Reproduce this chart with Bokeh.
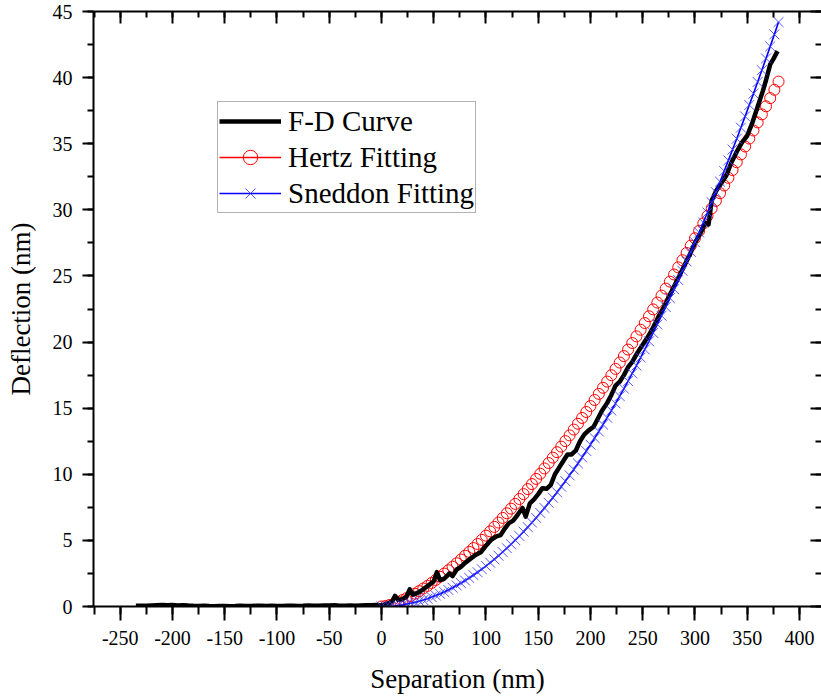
from bokeh.plotting import figure
from bokeh.models import (Range1d, LinearAxis, SingleIntervalTicker, Legend,
                          LegendItem, NumeralTickFormatter)
from bokeh.embed import file_html
from bokeh.resources import INLINE

SERIF = "Liberation Serif"

# ---------------- data ----------------
fd_sep_approach = [-235, -230, -225, -220, -215, -210, -205, -200, -195, -190,
                   -185, -180, -175, -170, -165, -160, -155, -150, -145, -140,
                   -135, -130, -125, -120, -115, -110, -105, -100, -95, -90,
                   -85, -80, -75, -70, -65, -60, -55, -50, -45, -40,
                   -35, -30, -25, -20, -15, -10, -5]
fd_defl_approach = [0.05, 0.06, 0.05, 0.08, 0.10, 0.12, 0.10, 0.11, 0.08, 0.10,
                    0.07, 0.05, 0.04, 0.05, 0.03, 0.02, 0.03, 0.04, 0.02, 0.03,
                    0.05, 0.04, 0.03, 0.05, 0.06, 0.04, 0.05, 0.04, 0.03, 0.05,
                    0.06, 0.04, 0.05, 0.07, 0.05, 0.06, 0.08, 0.07, 0.09, 0.06,
                    0.05, 0.07, 0.06, 0.08, 0.10, 0.09, 0.12]
fd_sep_contact = [0, 5, 10, 13, 16, 20, 24, 27, 30, 35,
                  40, 45, 50, 53, 56, 60, 65, 68, 72, 76,
                  80, 85, 90, 95, 100, 105, 110, 114, 118, 122,
                  126, 130, 135, 138, 142, 146, 150, 154, 158, 162,
                  166, 170, 174, 178, 182, 186, 190, 194, 198, 203,
                  207, 211, 216, 220, 224, 228, 232, 236, 240, 245,
                  250, 255, 260, 265, 270, 275, 280, 285, 290, 295,
                  300, 305, 310, 313, 316, 320, 325, 330, 335, 340,
                  345, 350, 355, 360, 365, 368, 372, 375, 379]
fd_defl_contact = [0.08, 0.20, 0.35, 0.80, 0.50, 0.55, 0.75, 1.30, 0.90, 1.05,
                   1.30, 1.60, 1.90, 2.60, 2.00, 2.10, 2.50, 2.30, 2.80, 3.00,
                   3.30, 3.60, 3.90, 4.10, 4.60, 5.05, 5.30, 5.40, 5.90, 6.30,
                   6.50, 6.90, 7.45, 6.80, 7.80, 8.10, 8.50, 8.95, 8.90, 9.20,
                   10.00, 10.50, 11.00, 11.50, 11.50, 11.80, 12.50, 13.00, 13.30, 13.60,
                   14.20, 14.80, 15.40, 16.00, 16.70, 17.00, 17.50, 18.10, 18.50, 19.20,
                   19.80, 20.40, 21.10, 21.90, 22.60, 23.40, 24.20, 25.00, 25.80, 26.60,
                   27.50, 28.20, 29.00, 28.90, 30.70, 31.40, 32.00, 32.60, 33.60, 34.40,
                   35.10, 35.60, 36.60, 37.80, 39.00, 39.80, 41.00, 41.40, 42.00]

fit_sep = [0, 4, 8, 12, 16, 20, 24, 28, 32, 36,
           40, 44, 48, 52, 56, 60, 64, 68, 72, 76,
           80, 84, 88, 92, 96, 100, 104, 108, 112, 116,
           120, 124, 128, 132, 136, 140, 144, 148, 152, 156,
           160, 164, 168, 172, 176, 180, 184, 188, 192, 196,
           200, 204, 208, 212, 216, 220, 224, 228, 232, 236,
           240, 244, 248, 252, 256, 260, 264, 268, 272, 276,
           280, 284, 288, 292, 296, 300, 304, 308, 312, 316,
           320, 324, 328, 332, 336, 340, 344, 348, 352, 356,
           360, 364, 368, 372, 376, 380]
hertz_defl = [0.00, 0.04, 0.12, 0.22, 0.34, 0.48, 0.63, 0.79, 0.97, 1.16,
              1.36, 1.56, 1.78, 2.01, 2.25, 2.49, 2.74, 3.01, 3.27, 3.55,
              3.84, 4.13, 4.42, 4.73, 5.04, 5.36, 5.68, 6.02, 6.35, 6.70,
              7.05, 7.40, 7.76, 8.13, 8.50, 8.88, 9.26, 9.65, 10.04, 10.44,
              10.85, 11.26, 11.67, 12.09, 12.51, 12.94, 13.38, 13.82, 14.26, 14.71,
              15.16, 15.62, 16.08, 16.54, 17.01, 17.49, 17.97, 18.45, 18.94, 19.43,
              19.93, 20.43, 20.93, 21.44, 21.95, 22.47, 22.99, 23.51, 24.04, 24.57,
              25.11, 25.65, 26.19, 26.74, 27.29, 27.85, 28.41, 28.97, 29.54, 30.11,
              30.68, 31.26, 31.84, 32.42, 33.01, 33.60, 34.19, 34.79, 35.39, 36.00,
              36.61, 37.22, 37.83, 38.45, 39.08, 39.70]
sneddon_defl = [0.00, 0.00, 0.02, 0.04, 0.08, 0.12, 0.18, 0.24, 0.31, 0.40,
                0.49, 0.59, 0.71, 0.83, 0.96, 1.10, 1.25, 1.42, 1.59, 1.77,
                1.96, 2.16, 2.37, 2.59, 2.82, 3.06, 3.31, 3.57, 3.84, 4.12,
                4.41, 4.71, 5.02, 5.33, 5.66, 6.00, 6.35, 6.70, 7.07, 7.45,
                7.84, 8.23, 8.64, 9.06, 9.48, 9.92, 10.36, 10.82, 11.28, 11.76,
                12.24, 12.74, 13.24, 13.76, 14.28, 14.82, 15.36, 15.91, 16.48, 17.05,
                17.63, 18.22, 18.83, 19.44, 20.06, 20.69, 21.33, 21.99, 22.65, 23.32,
                24.00, 24.69, 25.39, 26.10, 26.82, 27.55, 28.29, 29.04, 29.80, 30.57,
                31.34, 32.13, 32.93, 33.74, 34.56, 35.38, 36.22, 37.07, 37.93, 38.79,
                39.67, 40.56, 41.45, 42.36, 43.27, 44.20]

series_names = ["F-D Curve", "Hertz Fitting", "Sneddon Fitting"]
x_title = "Separation (nm)"
y_title = "Deflection (nm)"

# ---------------- figure ----------------
p = figure(width=821, height=700, output_backend="svg", toolbar_location=None,
           x_range=Range1d(-275.6, 421.1), y_range=Range1d(0, 45),
           min_border_left=93, min_border_right=0, min_border_top=11,
           min_border_bottom=94, background_fill_color="white",
           border_fill_color="white")
p.outline_line_color = None
p.xgrid.visible = False
p.ygrid.visible = False


def style_axis(ax, tick_in, tick_out, minor_in, minor_out, labels=True, standoff=8):
    ax.axis_line_color = "black"
    ax.axis_line_width = 2
    ax.major_tick_line_color = "black"
    ax.major_tick_line_width = 2
    ax.minor_tick_line_color = "black"
    ax.minor_tick_line_width = 2
    ax.major_tick_in = tick_in
    ax.major_tick_out = tick_out
    ax.minor_tick_in = minor_in
    ax.minor_tick_out = minor_out
    if labels:
        ax.major_label_text_font = SERIF
        ax.major_label_text_font_size = "20px"
        ax.major_label_text_color = "black"
        ax.major_label_standoff = standoff
        ax.formatter = NumeralTickFormatter(format="0")
    else:
        ax.major_label_text_font_size = "0px"
        ax.major_label_text_color = None
        ax.major_label_standoff = 0


xb = p.xaxis[0]
xb.ticker = SingleIntervalTicker(interval=50, num_minor_ticks=2)
style_axis(xb, 0, 14, 0, 8, True, 10)
yl = p.yaxis[0]
yl.ticker = SingleIntervalTicker(interval=5, num_minor_ticks=2)
style_axis(yl, 0, 11, 0, 6, True, 10)

xb.axis_label = x_title
xb.axis_label_standoff = 16
yl.axis_label = y_title
yl.axis_label_standoff = 14
for ax in (xb, yl):
    ax.axis_label_text_font = SERIF
    ax.axis_label_text_font_size = "27px"
    ax.axis_label_text_font_style = "normal"
    ax.axis_label_text_color = "black"

xt = LinearAxis(ticker=SingleIntervalTicker(interval=50, num_minor_ticks=2))
style_axis(xt, 12, 0, 6, 0, False)
p.add_layout(xt, "above")
yr = LinearAxis(ticker=SingleIntervalTicker(interval=5, num_minor_ticks=2))
style_axis(yr, 11, 0, 6, 0, False)
yr.axis_line_color = None
p.add_layout(yr, "right")

# ---------------- glyphs ----------------
h_r = p.scatter(fit_sep, hertz_defl, marker="circle", size=11,
                fill_color=None, line_color="red", line_width=1)
fd_r = p.line(fd_sep_approach + fd_sep_contact, fd_defl_approach + fd_defl_contact,
              line_color="black", line_width=4.5, line_join="round")
s_line = p.line(fit_sep, sneddon_defl, line_color="blue", line_width=1.6)
s_r = p.scatter(fit_sep, sneddon_defl, marker="x", size=14,
                line_color="#3a3aff", line_width=1, line_alpha=0.85)
# line part of the Hertz legend sample only (no visible points)
h_key = p.line([float("nan")], [float("nan")], line_color="red", line_width=1.5)

legend = Legend(items=[LegendItem(label=series_names[0], renderers=[fd_r]),
                       LegendItem(label=series_names[1], renderers=[h_key, h_r]),
                       LegendItem(label=series_names[2], renderers=[s_line, s_r])],
                location=(124, 393), orientation="vertical")
legend.label_text_font = SERIF
legend.label_text_font_size = "29px"
legend.label_text_color = "black"
legend.glyph_width = 62
legend.glyph_height = 36
legend.label_height = 36
legend.label_standoff = 7
legend.spacing = 0
legend.padding = 1
legend.margin = 0
legend.border_line_color = "#666666"
legend.border_line_width = 1
legend.background_fill_color = "white"
legend.background_fill_alpha = 1
p.add_layout(legend)

open("out.html", "w").write(file_html(p, INLINE))
